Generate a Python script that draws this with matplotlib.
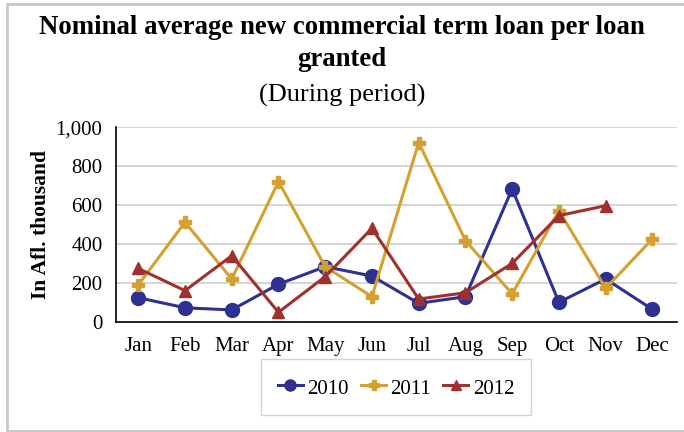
import matplotlib.pyplot as plt
from matplotlib.patches import Rectangle

months = ["Jan", "Feb", "Mar", "Apr", "May", "Jun", "Jul", "Aug", "Sep", "Oct", "Nov", "Dec"]
y2010 = [125, 73, 62, 194, 284, 236, 96, 130, 683, 101, 221, 65]
y2011 = [190, 512, 221, 721, 284, 130, 921, 418, 144, 572, 173, 426]
y2012 = [275, 161, 340, 50, 233, 481, 118, 150, 301, 546, 597]

plt.rcParams['font.family'] = ['Liberation Serif', 'DejaVu Serif']

fig = plt.figure(figsize=(6.84, 4.32), dpi=100)
# chart border
fig.patches.append(Rectangle((7/684, 1/432), 680/684, 427/432, transform=fig.transFigure,
                             fill=False, edgecolor="#c8c8c8", linewidth=2))

ax = fig.add_axes([0.170, 0.2546, 0.820, 0.451])

x = list(range(len(months)))
ax.plot(x, y2010, color="#2e3192", lw=2.2, marker="o", ms=10, label="2010")
ax.plot(x, y2011, color="#d4a030", lw=2.2, marker="P", ms=9, label="2011")
ax.plot(x[:len(y2012)], y2012, color="#a0302e", lw=2.2, marker="^", ms=9, label="2012")

ax.set_xlim(-0.47, 11.53)
ax.set_ylim(0, 1000)
ax.set_yticks(range(0, 1001, 200))
ax.set_yticklabels(["0", "200", "400", "600", "800", "1,000"])
ax.set_xticks(x)
ax.set_xticklabels(months)
ax.tick_params(length=0, labelsize=15)
ax.tick_params(axis="x", pad=11)
ax.tick_params(axis="y", pad=10)
ax.grid(axis="y", color="#d0d0d0", lw=1.2)
ax.set_axisbelow(True)
for s in ["top", "right"]:
    ax.spines[s].set_visible(False)
ax.spines["left"].set_linewidth(1.2)
ax.spines["bottom"].set_linewidth(1.2)

ax.set_ylabel("In Afl. thousand", fontsize=15.5, fontweight="bold", labelpad=3)

fig.text(0.5, 1 - 28/432, "Nominal average new commercial term loan per loan",
         ha="center", va="center", fontsize=19.3, fontweight="bold")
fig.text(0.5, 1 - 60/432, "granted",
         ha="center", va="center", fontsize=19.3, fontweight="bold")
fig.text(0.5, 1 - 95/432, "(During period)", ha="center", va="center", fontsize=19)

leg = fig.legend(loc="center", bbox_to_anchor=(396/684, 1 - 387/432), ncol=3,
                 fontsize=15, handlelength=1.2, handletextpad=0.2, columnspacing=0.6,
                 handleheight=1.3, markerscale=0.8, fancybox=False,
                 edgecolor="#c8c8c8", borderpad=0.8)

fig.savefig("out.png", dpi=100)
